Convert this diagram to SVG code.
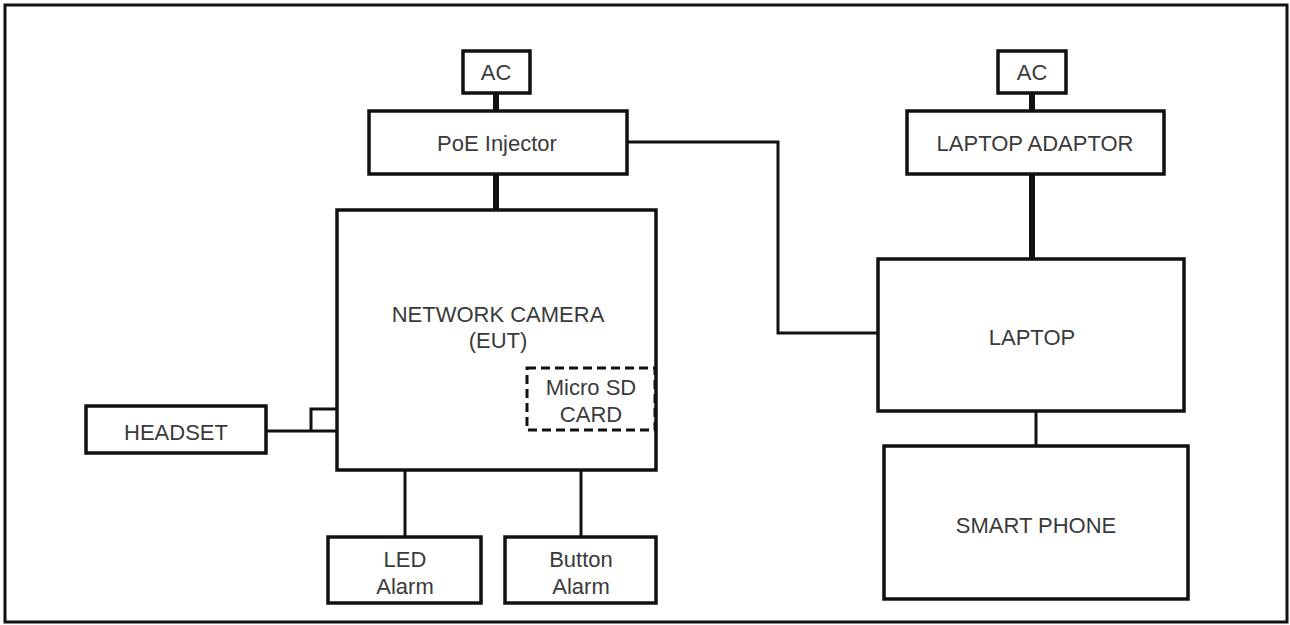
<svg xmlns="http://www.w3.org/2000/svg" width="1290" height="625" viewBox="0 0 1290 625">
<style>
.box{fill:#fff;stroke:#111;stroke-width:3.5}
.dash{fill:none;stroke:#111;stroke-width:3;stroke-dasharray:9 5}
.ln{fill:none;stroke:#111;stroke-width:3}
.thick{fill:none;stroke:#111;stroke-width:6}
text{font-family:"Liberation Sans","Noto Sans",Arial,sans-serif;font-size:22px;fill:#3a3a3a;text-anchor:middle}
</style>
<rect x="0" y="0" width="1290" height="625" fill="#fff"/>
<rect x="5" y="5" width="1282" height="617" fill="none" stroke="#111" stroke-width="3"/>
<g id="connectors">
<line class="thick" x1="496" y1="93" x2="496" y2="111"/>
<line class="thick" x1="496" y1="174" x2="496" y2="210"/>
<line class="thick" x1="1032" y1="93" x2="1032" y2="111"/>
<line class="thick" x1="1032" y1="174" x2="1032" y2="259"/>
<polyline class="ln" points="627,142 778,142 778,333 879,333"/>
<line class="ln" x1="1036" y1="411" x2="1036" y2="446"/>
<line class="ln" x1="405" y1="470" x2="405" y2="537"/>
<line class="ln" x1="581" y1="470" x2="581" y2="537"/>
<polyline class="ln" points="266,431 337,431"/>
<polyline class="ln" points="311,431 311,409 337,409"/>
</g>
<g id="ac1"><rect class="box" x="463" y="51" width="67" height="42"/><text x="496" y="80">AC</text></g>
<g id="poe"><rect class="box" x="369" y="111" width="258" height="63"/><text x="497" y="151">PoE Injector</text></g>
<g id="ac2"><rect class="box" x="998" y="51" width="68" height="42"/><text x="1032" y="80">AC</text></g>
<g id="adaptor"><rect class="box" x="907" y="111" width="257" height="63"/><text x="1035" y="151">LAPTOP ADAPTOR</text></g>
<g id="camera"><rect class="box" x="337" y="210" width="319" height="260"/><text x="498" y="322">NETWORK CAMERA</text><text x="498" y="348">(EUT)</text></g>
<g id="microsd"><rect class="dash" x="527" y="368" width="128" height="62"/><text x="591" y="395">Micro SD</text><text x="591" y="422">CARD</text></g>
<g id="headset"><rect class="box" x="86" y="406" width="180" height="47"/><text x="176" y="440">HEADSET</text></g>
<g id="led"><rect class="box" x="328" y="537" width="153" height="66"/><text x="405" y="567">LED</text><text x="405" y="594">Alarm</text></g>
<g id="button"><rect class="box" x="505" y="537" width="151" height="66"/><text x="581" y="567">Button</text><text x="581" y="594">Alarm</text></g>
<g id="laptop"><rect class="box" x="878" y="259" width="306" height="152"/><text x="1032" y="345">LAPTOP</text></g>
<g id="smartphone"><rect class="box" x="884" y="446" width="304" height="153"/><text x="1036" y="533">SMART PHONE</text></g>
</svg>
